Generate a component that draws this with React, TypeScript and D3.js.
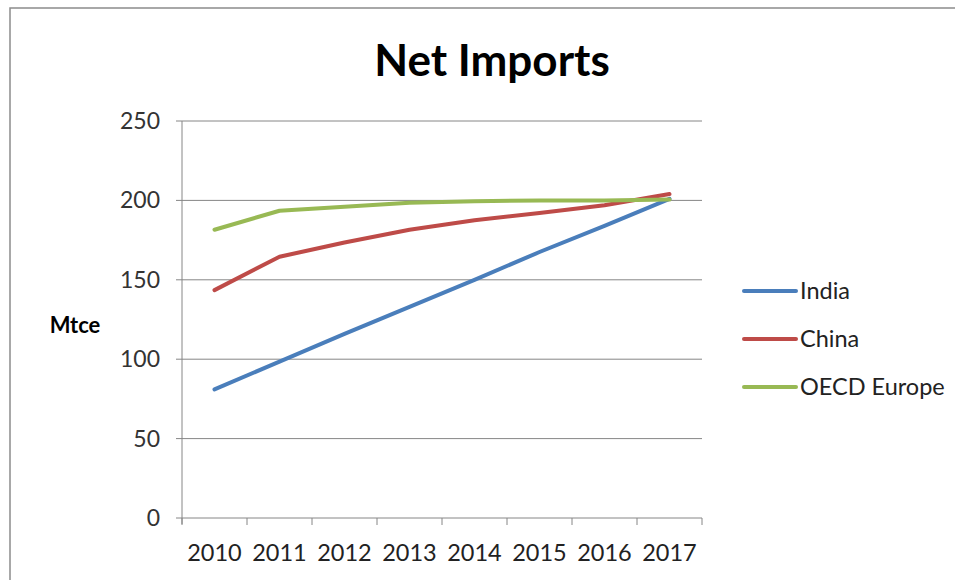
import React from "react";
import * as d3 from "d3";

const years = ["2010", "2011", "2012", "2013", "2014", "2015", "2016", "2017"];
const india = [81, 98.5, 116, 133, 150, 167.5, 184, 201];
const china = [143.5, 164.5, 173.5, 181.5, 187.5, 192, 197, 204];
const oecdEurope = [181.5, 193.5, 196, 198.5, 199.5, 200, 200, 200.5];
const yTicks = [0, 50, 100, 150, 200, 250];

const series = [
  { name: "India", values: india, color: "#4A7EBB" },
  { name: "China", values: china, color: "#BE4B48" },
  { name: "OECD Europe", values: oecdEurope, color: "#98B954" },
];

const W = 955;
const H = 580;
const plot = { left: 182, right: 702, top: 121, bottom: 518 };
const font = "Lato, 'Open Sans', sans-serif";

export default function App() {
  const x = d3.scaleBand().domain(years).range([plot.left, plot.right]);
  const y = d3.scaleLinear().domain([0, 250]).range([plot.bottom, plot.top]);
  const cx = (i: number) => (x(years[i]) as number) + x.bandwidth() / 2;

  const line = d3
    .line<number>()
    .x((_, i) => cx(i))
    .y((d) => y(d));

  const axisColor = "#868686";

  return (
    <svg
      width={W}
      height={H}
      style={{ position: "fixed", left: 0, top: 0, background: "#fff" }}
    >
      <rect x={10} y={8} width={W} height={H} fill="#fff" stroke="#8c8c8c" strokeWidth={1.5} />

      <text
        x={492}
        y={76}
        textAnchor="middle"
        fontFamily={font}
        fontWeight="bold"
        fontSize={44}
        fill="#000"
      >
        Net Imports
      </text>

      {/* gridlines + y ticks */}
      {yTicks.map((t) => (
        <g key={t}>
          <line x1={plot.left - 6} x2={plot.right} y1={y(t)} y2={y(t)} stroke={axisColor} strokeWidth={1} />
          <text
            x={160}
            y={y(t)}
            dy="0.35em"
            textAnchor="end"
            fontFamily={font}
            fontSize={23}
            fill="#333"
          >
            {t}
          </text>
        </g>
      ))}

      {/* y axis */}
      <line x1={plot.left} x2={plot.left} y1={plot.top} y2={plot.bottom + 6} stroke={axisColor} strokeWidth={1} />

      {/* x axis ticks */}
      {d3.range(years.length + 1).map((i) => {
        const xx = plot.left + i * x.bandwidth();
        return (
          <line key={i} x1={xx} x2={xx} y1={plot.bottom} y2={plot.bottom + 7} stroke={axisColor} strokeWidth={1} />
        );
      })}
      {years.map((yr, i) => (
        <text
          key={yr}
          x={cx(i)}
          y={561}
          textAnchor="middle"
          fontFamily={font}
          fontSize={23.5}
          fill="#222"
        >
          {yr}
        </text>
      ))}

      <text
        x={75}
        y={325}
        dy="0.35em"
        textAnchor="middle"
        fontFamily={font}
        fontWeight="bold"
        fontSize={22}
        fill="#000"
      >
        Mtce
      </text>

      {series.map((s) => (
        <path
          key={s.name}
          d={line(s.values) as string}
          fill="none"
          stroke={s.color}
          strokeWidth={4}
          strokeLinejoin="round"
          strokeLinecap="round"
        />
      ))}

      {/* legend */}
      {series.map((s, i) => {
        const ly = 291 + i * 48;
        return (
          <g key={s.name}>
            <line x1={744} x2={796} y1={ly} y2={ly} stroke={s.color} strokeWidth={4} strokeLinecap="round" />
            <text x={800} y={ly} dy="0.35em" fontFamily={font} fontSize={23.5} fill="#222">
              {s.name}
            </text>
          </g>
        );
      })}
    </svg>
  );
}
